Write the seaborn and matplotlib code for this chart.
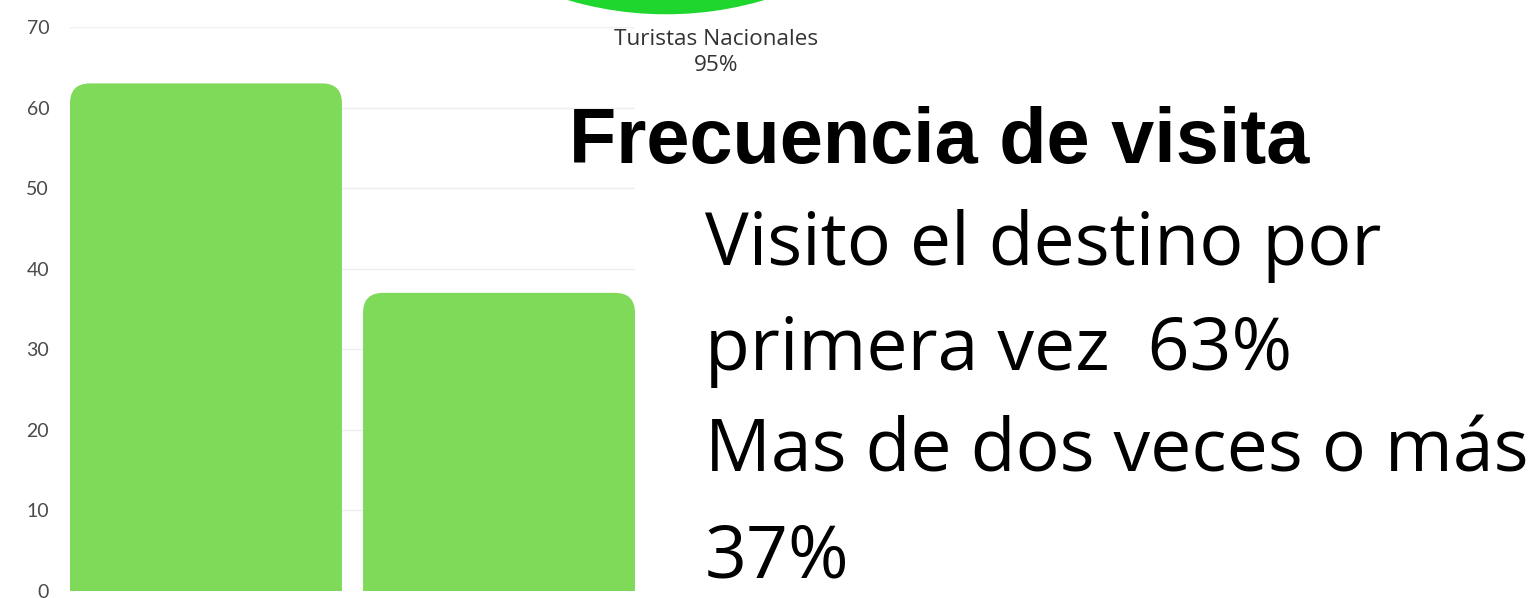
import matplotlib
matplotlib.use('Agg')
import pandas as pd
import matplotlib.pyplot as plt
import seaborn as sns
from matplotlib.patches import FancyBboxPatch

# === Data ===
categories = ['Primera vez', 'Dos veces o más']
percentages = [63, 37]
y_ticks = [0, 10, 20, 30, 40, 50, 60, 70]

pie_labels = ['Turistas Nacionales', 'Turistas Extranjeros']
pie_values = [95, 5]

title = 'Frecuencia de visita'
body_lines = ['Visito el destino por', 'primera vez  63%', 'Mas de dos veces o más', '37%']

W, H = 1537, 598


def px(x, y):
    # pixel position (from top-left) -> figure fraction
    return x / W, 1 - y / H


sns.set_style('white')
fig = plt.figure(figsize=(W / 100, H / 100), dpi=100)

# --- Bar chart ---
ax = fig.add_axes([70 / W, 7 / H, 565 / W, 564 / H])
df = pd.DataFrame({'cat': categories, 'pct': percentages})
sns.barplot(data=df, x='cat', y='pct', color='#7fda5a', saturation=1, width=0.928, ax=ax)

# swap the plain bars for ones with rounded tops
for p in list(ax.patches):
    x0, w, h = p.get_x(), p.get_width(), p.get_height()
    fc = p.get_facecolor()
    p.remove()
    rb = FancyBboxPatch((x0, -5), w, h + 5, boxstyle='round,pad=0,rounding_size=0.068',
                        mutation_aspect=36.3, fc=fc, ec='none', zorder=2)
    ax.add_patch(rb)

ax.set_xlim(-0.464, 1.464)
ax.set_ylim(0, 70)
ax.set_yticks(y_ticks)
ax.set_xticks([])
ax.set_xlabel('')
ax.set_ylabel('')
ax.grid(axis='y', color='#eeeeee', lw=1)
ax.set_axisbelow(True)
sns.despine(ax=ax, left=True, bottom=True)
ax.tick_params(axis='y', length=0, pad=15, labelsize=14, labelcolor='#4a4a4a')
for lbl in ax.get_yticklabels():
    lbl.set_fontfamily('Lato')

# --- Pie (only its bottom edge shows at the top of the figure) ---
pax = fig.add_axes([318 / W, 583 / H, 696 / W, 696 / H])
pax.pie(pie_values, colors=['#1fd62f', '#9be89b'], startangle=0, counterclock=True)
pax.set_xlim(-1, 1)
pax.set_ylim(-1, 1)
pax.axis('off')

fig.text(*px(716, 45), pie_labels[0], ha='center', va='baseline',
         fontsize=16.2, color='#333333', family='Open Sans')
fig.text(*px(716, 71), f'{pie_values[0]}%', ha='center', va='baseline',
         fontsize=16.2, color='#333333', family='Open Sans')

# --- Title and text block ---
fig.text(*px(569, 163), title, ha='left', va='baseline', fontsize=55.8,
         fontweight='bold', family='Liberation Sans', color='black')

for line, base in zip(body_lines, [265, 370, 472, 577]):
    fig.text(*px(705, base), line, ha='left', va='baseline', fontsize=52.8,
             family='Open Sans', color='black')

fig.savefig('out.png', dpi=100)
